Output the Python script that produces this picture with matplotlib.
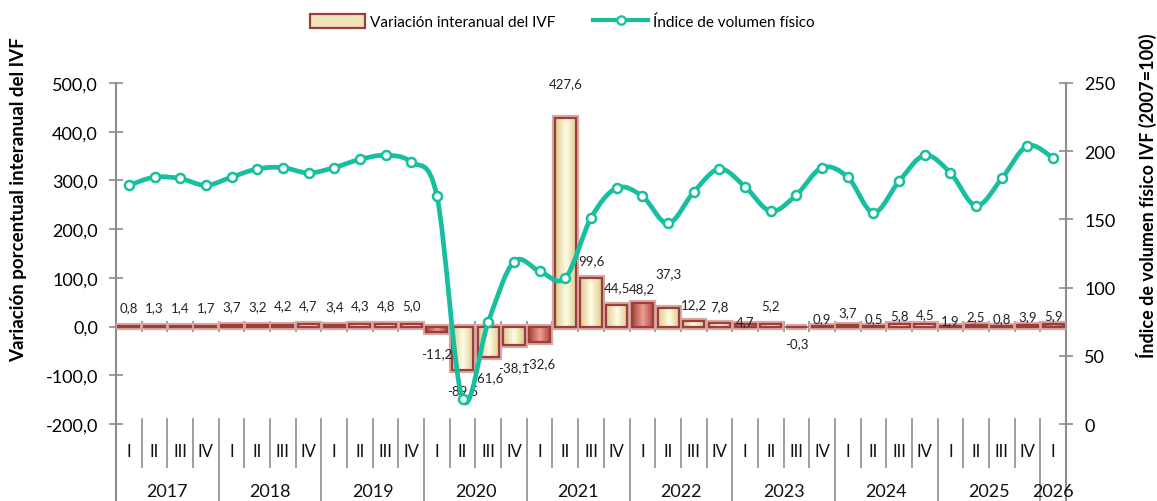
import numpy as np
import matplotlib
matplotlib.use('Agg')
import matplotlib.pyplot as plt
from matplotlib.path import Path
from matplotlib.patches import PathPatch, Patch
from matplotlib.lines import Line2D

plt.rcParams['font.family'] = ['Lato', 'DejaVu Sans']

# datos trimestrales 2017-I .. 2026-I
years = ['2017', '2018', '2019', '2020', '2021', '2022', '2023', '2024', '2025', '2026']
quarters = ['I', 'II', 'III', 'IV'] * 9 + ['I']
variacion = [0.8, 1.3, 1.4, 1.7, 3.7, 3.2, 4.2, 4.7, 3.4, 4.3, 4.8, 5.0,
             -11.2, -89.5, -61.6, -38.1, -32.6, 427.6, 99.6, 44.5,
             48.2, 37.3, 12.2, 7.8, 4.7, 5.2, -0.3, 0.9, 3.7, 0.5, 5.8, 4.5,
             1.9, 2.5, 0.8, 3.9, 5.9]
ivf = [175, 181, 180, 175, 181, 187, 188, 184, 188, 194, 197, 192,
       167, 18, 75, 119, 112, 107, 151, 173, 167, 147, 170, 187,
       174, 156, 168, 188, 181, 155, 178, 197, 184, 160, 180, 204, 195]

# desplazamiento vertical de las etiquetas (px, + arriba)
label_dy = [19] * 12 + [-21, -20, -21, -22, -21, 35, 18, 18, 15, 35, 16, 17,
                        3, 19, -16, 8, 13, 8, 9, 10, 5, 9, 8, 9, 9]

n = len(variacion)
x = np.arange(n)

teal = '#17BF9E'
grey = '#8C8C8C'
edge_red = '#9E3E3A'

fig = plt.figure(figsize=(11.57, 5.02), dpi=100)
ax = fig.add_axes([116 / 1157, 1 - 425 / 502, 950 / 1157, 341 / 502])
ax2 = ax.twinx()

ax.set_xlim(-0.5, n - 0.5)
ax.set_ylim(-200, 500)
ax2.set_ylim(0, 250)

# línea del cero con marcas
ax.axhline(0, color=grey, lw=1.5, zorder=1)
ax.vlines(np.arange(n + 1) - 0.5, -12, 12, color=grey, lw=1.2, zorder=1)

# barras con degradado
cream = np.array([[0.86, 0.79, 0.55], [1.0, 0.99, 0.90], [0.86, 0.79, 0.55]])
redg = np.array([[0.66, 0.26, 0.24], [0.93, 0.62, 0.58], [0.66, 0.26, 0.24]])
ax.bar(x, variacion, width=0.82, color='none', edgecolor='#D9A9A4',
       linewidth=4.5, zorder=2.2)
bars = ax.bar(x, variacion, width=0.82, color='none', edgecolor=edge_red,
              linewidth=1.6, zorder=3)
for i, b in enumerate(bars):
    cols = redg if quarters[i] == 'I' else cream
    t = np.linspace(0, 1, 64)
    grad = np.empty((1, 64, 3))
    for c in range(3):
        grad[0, :, c] = np.interp(t, [0, 0.5, 1], cols[:, c])
    x0, y0 = b.get_x(), b.get_y()
    w, h = b.get_width(), b.get_height()
    im = ax.imshow(grad, extent=[x0, x0 + w, min(y0, y0 + h), max(y0, y0 + h)],
                   aspect='auto', zorder=2.5, interpolation='bilinear')
    im.set_clip_path(b)

ax.set_xlim(-0.5, n - 0.5)
ax.set_ylim(-200, 500)

# etiquetas de datos
for i, v in enumerate(variacion):
    ax.annotate(f'{v:.1f}'.replace('.', ','), (x[i], v),
                xytext=(0, label_dy[i] * 0.72), textcoords='offset points',
                ha='center', va='center', fontsize=9.5, color='#222222', zorder=6)

# línea suavizada (Bezier)
pts = np.column_stack([x, ivf]).astype(float)
verts = [pts[0]]
codes = [Path.MOVETO]
for i in range(n - 1):
    p0 = pts[i - 1] if i > 0 else pts[i]
    p1, p2 = pts[i], pts[i + 1]
    p3 = pts[i + 2] if i + 2 < n else pts[i + 1]
    verts += [p1 + (p2 - p0) / 6, p2 - (p3 - p1) / 6, p2]
    codes += [Path.CURVE4] * 3
ax2.add_patch(PathPatch(Path(verts, codes), fill=False, edgecolor=teal,
                        lw=3.4, zorder=5, capstyle='round'))
ax2.plot(x, ivf, ls='none', marker='o', ms=6.5, mfc='white', mec=teal,
         mew=1.8, zorder=6)
ax2.set_zorder(ax.get_zorder() + 1)
ax2.patch.set_visible(False)
ax.patch.set_visible(False)

# ejes
for a in (ax, ax2):
    for s in a.spines.values():
        s.set_visible(False)
ax.set_xticks([])
ax.set_yticks(np.arange(-200, 501, 100))
ax.set_yticklabels([f'{v:.1f}'.replace('.', ',') for v in np.arange(-200, 501, 100)])
ax2.set_yticks(np.arange(0, 251, 50))
ax.tick_params(axis='y', direction='inout', length=10, width=1.2, color=grey,
               labelsize=13, pad=8)
ax2.tick_params(axis='y', direction='inout', length=10, width=1.2, color=grey,
                labelsize=13, pad=8)

# líneas de eje extendidas hasta abajo
q_bot = -43 / 341
y_bot = -77 / 341
tr = ax.get_xaxis_transform()
ax.plot([-0.5, -0.5], [1, y_bot], color=grey, lw=1.5, transform=tr, clip_on=False)
ax.plot([n - 0.5, n - 0.5], [1, y_bot], color=grey, lw=1.5, transform=tr, clip_on=False)

# eje de categorías multinivel
for k in range(1, n):
    yb = y_bot if k % 4 == 0 else q_bot
    ax.plot([k - 0.5, k - 0.5], [0.015, yb], color=grey, lw=1.2, transform=tr,
            clip_on=False)
for i, q in enumerate(quarters):
    ax.text(x[i], -27 / 341, q, transform=tr, ha='center', va='center',
            fontsize=12, color='#111111')
for j, yr in enumerate(years):
    idx = x[4 * j:4 * j + 4]
    ax.text(idx.mean(), -67 / 341, yr, transform=tr, ha='center', va='center',
            fontsize=13, color='#111111')

fig.text(19 / 1157, 1 - 200 / 502, 'Variación porcentual interanual del IVF',
         rotation=90, ha='center', va='center', fontsize=13.5, fontweight='bold')
fig.text(1146 / 1157, 1 - 196 / 502, 'Índice de volumen físico IVF (2007=100)',
         rotation=90, ha='center', va='center', fontsize=13, fontweight='bold')

# leyenda
handles = [Patch(facecolor='#EFE3B8', edgecolor=edge_red, lw=1.6),
           Line2D([0], [0], color=teal, lw=3, marker='o', ms=6, mfc='white',
                  mec=teal, mew=1.6)]
fig.legend(handles, ['Variación interanual del IVF', 'Índice de volumen físico'],
           loc='center', bbox_to_anchor=(0.486, 0.955), ncol=2, frameon=False,
           fontsize=11, handlelength=3.6, handleheight=1.0, columnspacing=2.5,
           handletextpad=0.3)

fig.savefig('out.png', dpi=100)
